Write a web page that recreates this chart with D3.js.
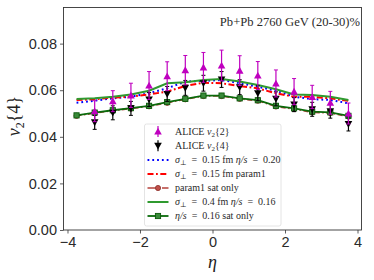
<!DOCTYPE html>
<html>
<head>
<meta charset="utf-8">
<script src="https://cdn.jsdelivr.net/npm/d3@7"></script>
<style>
  body { margin: 0; background: #fff; }
  svg { display: block; font-family: "Liberation Serif", "DejaVu Serif", serif; }
</style>
</head>
<body>
<svg id="chart" width="374" height="280"></svg>
<script>
// ALICE data points
const etaData = [-3.25, -2.75, -2.25, -1.75, -1.25, -0.75, -0.25, 0.25, 0.75, 1.25, 1.75, 2.25, 2.75, 3.25, 3.75];
const v22 = [0.0510, 0.0553, 0.0578, 0.0620, 0.0660, 0.0686, 0.0698, 0.0706, 0.0684, 0.0663, 0.0629, 0.0594, 0.0571, 0.0546, 0.0500];
const v22err = [0.0045, 0.0045, 0.0052, 0.0060, 0.0062, 0.0063, 0.0064, 0.0066, 0.0064, 0.0060, 0.0058, 0.0056, 0.0050, 0.0049, 0.0045];
const v24 = [0.0462, 0.0503, 0.0522, 0.0560, 0.0584, 0.0610, 0.0630, 0.0646, 0.0613, 0.0587, 0.0563, 0.0538, 0.0518, 0.0510, 0.0455];
const v24err = [0.0030, 0.0030, 0.0030, 0.0030, 0.0032, 0.0032, 0.0034, 0.0034, 0.0032, 0.0032, 0.0030, 0.0030, 0.0030, 0.0030, 0.0030];

// model curves
const etaModel = [-3.75, -3.25, -2.75, -2.25, -1.75, -1.25, -0.75, -0.25, 0.25, 0.75, 1.25, 1.75, 2.25, 2.75, 3.25, 3.75];
const sig015eta020 = [0.0546, 0.0555, 0.0565, 0.0572, 0.0587, 0.0608, 0.0637, 0.0640, 0.0644, 0.0630, 0.0615, 0.0598, 0.0572, 0.0562, 0.0558, 0.0544];
const sig015param1 = [0.0558, 0.0561, 0.0568, 0.0572, 0.0582, 0.0594, 0.0618, 0.0632, 0.0630, 0.0618, 0.0608, 0.0587, 0.0572, 0.0572, 0.0565, 0.0554];
const param1Sat = [0.0490, 0.0502, 0.0512, 0.0521, 0.0531, 0.0546, 0.0561, 0.0575, 0.0575, 0.0563, 0.0555, 0.0530, 0.0519, 0.0505, 0.0502, 0.0487];
const sig04eta016 = [0.0562, 0.0565, 0.0572, 0.0582, 0.0598, 0.0630, 0.0634, 0.0644, 0.0648, 0.0637, 0.0622, 0.0604, 0.0582, 0.0579, 0.0572, 0.0558];
const eta016Sat = [0.0492, 0.0504, 0.0514, 0.0523, 0.0533, 0.0549, 0.0563, 0.0577, 0.0577, 0.0565, 0.0557, 0.0533, 0.0522, 0.0508, 0.0505, 0.0490];

const xTicks = [-4, -2, 0, 2, 4];
const yTicks = [0, 0.02, 0.04, 0.06, 0.08];

const svg = d3.select("#chart");
const x = d3.scaleLinear().domain([-4.11, 4.11]).range([63.5, 361.5]);
const y = d3.scaleLinear().domain([0, 0.0955]).range([230, 7.5]);

// axes
svg.append("g").attr("transform", "translate(0,230)")
  .call(d3.axisBottom(x).tickValues(xTicks).tickSize(3.5).tickPadding(3)
    .tickFormat(d => d < 0 ? "\u2212" + Math.abs(d) : d))
  .call(g => g.select(".domain").remove())
  .call(g => g.selectAll("text").attr("font-size", 14.5).attr("fill", "#2a2a2a"));
svg.append("g").attr("transform", "translate(63.5,0)")
  .call(d3.axisLeft(y).tickValues(yTicks).tickSize(3.5).tickPadding(3).tickFormat(d3.format(".2f")))
  .call(g => g.select(".domain").remove())
  .call(g => g.selectAll("text").attr("font-size", 14.5).attr("fill", "#2a2a2a"));
svg.selectAll(".tick line").attr("stroke", "#333").attr("stroke-width", 0.8);

svg.append("rect")
  .attr("x", 63.5).attr("y", 7.5).attr("width", 298).attr("height", 222.5)
  .attr("fill", "none").attr("stroke", "#333").attr("stroke-width", 0.9);

const plot = svg.append("g");
const line = (vals) => d3.line().x((d, i) => x(etaModel[i])).y(d => y(d))(vals);

// model lines
plot.append("path").attr("d", line(sig015eta020)).attr("fill", "none")
  .attr("stroke", "#0000ff").attr("stroke-width", 2).attr("stroke-dasharray", "1.8,3");
plot.append("path").attr("d", line(sig015param1)).attr("fill", "none")
  .attr("stroke", "#ff0000").attr("stroke-width", 2).attr("stroke-dasharray", "6,2.5,1.8,2.5");
plot.append("path").attr("d", line(param1Sat)).attr("fill", "none")
  .attr("stroke", "#b5413b").attr("stroke-width", 1.6).attr("stroke-dasharray", "5,2.5,1.5,2.5");
plot.selectAll(".p1c").data(param1Sat).join("circle")
  .attr("cx", (d, i) => x(etaModel[i])).attr("cy", d => y(d)).attr("r", 2.6)
  .attr("fill", "#c0504a").attr("stroke", "#8a2a25").attr("stroke-width", 0.8);
plot.append("path").attr("d", line(sig04eta016)).attr("fill", "none")
  .attr("stroke", "#2f9a2f").attr("stroke-width", 2);
plot.append("path").attr("d", line(eta016Sat)).attr("fill", "none")
  .attr("stroke", "#0a6a0a").attr("stroke-width", 1.8);
plot.selectAll(".sq").data(eta016Sat).join("rect")
  .attr("x", (d, i) => x(etaModel[i]) - 2.6).attr("y", d => y(d) - 2.6)
  .attr("width", 5.2).attr("height", 5.2)
  .attr("fill", "#3a8a3a").attr("stroke", "#0a5a0a").attr("stroke-width", 0.9);

// error bars + markers
function errorPoints(vals, errs, color, up) {
  const g = plot.append("g");
  vals.forEach((v, i) => {
    const cx = x(etaData[i]);
    g.append("line").attr("x1", cx).attr("x2", cx)
      .attr("y1", y(v - errs[i])).attr("y2", y(v + errs[i]))
      .attr("stroke", color).attr("stroke-width", 1.2);
    [v - errs[i], v + errs[i]].forEach(e => g.append("line")
      .attr("x1", cx - 2).attr("x2", cx + 2).attr("y1", y(e)).attr("y2", y(e))
      .attr("stroke", color).attr("stroke-width", 1));
    g.append("path").attr("d", tri(cx, y(v), up)).attr("fill", color);
  });
}
function tri(cx, cy, up) {
  const s = 3.8;
  return up
    ? `M${cx},${cy - s}L${cx + s},${cy + s * 0.8}L${cx - s},${cy + s * 0.8}Z`
    : `M${cx},${cy + s}L${cx + s},${cy - s * 0.8}L${cx - s},${cy - s * 0.8}Z`;
}
errorPoints(v24, v24err, "#000", false);
errorPoints(v22, v22err, "#bf00bf", true);

// title
svg.append("text").attr("x", 360).attr("y", 26).attr("text-anchor", "end")
  .attr("font-size", 12.6).attr("fill", "#2a2a2a").text("Pb+Pb 2760 GeV (20-30)%");

// axis labels
svg.append("text").attr("x", 212.5).attr("y", 268).attr("text-anchor", "middle")
  .attr("font-size", 18).attr("font-style", "italic").attr("fill", "#222").text("\u03b7");
const yl = svg.append("text").attr("transform", "translate(20,116) rotate(-90)")
  .attr("text-anchor", "middle").attr("font-size", 18).attr("fill", "#222");
yl.append("tspan").attr("font-style", "italic").text("v");
yl.append("tspan").attr("font-size", 12).attr("dy", 4).text("2");
yl.append("tspan").attr("dy", -4).text("{4}");

// legend
const lg = svg.append("g");
lg.append("rect").attr("x", 144.5).attr("y", 124).attr("width", 136.5).attr("height", 102)
  .attr("rx", 2).attr("fill", "#fff").attr("fill-opacity", 0.85)
  .attr("stroke", "#ddd").attr("stroke-width", 0.8);
const rowY = [131.5, 145.7, 160, 174, 188, 202, 216];
const hx0 = 147.5, hx1 = 168.5, hxm = 158;
// data rows
[[v22err, "#bf00bf", true], [v24err, "#000", false]].forEach(([e, c, up], k) => {
  const cy = rowY[k];
  lg.append("line").attr("x1", hxm).attr("x2", hxm).attr("y1", cy - 5.5).attr("y2", cy + 5.5)
    .attr("stroke", c).attr("stroke-width", 1.2);
  lg.append("path").attr("d", tri(hxm, cy, up)).attr("fill", c);
});
lg.append("line").attr("x1", hx0).attr("x2", hx1).attr("y1", rowY[2]).attr("y2", rowY[2])
  .attr("stroke", "#0000ff").attr("stroke-width", 2).attr("stroke-dasharray", "1.8,3");
lg.append("line").attr("x1", hx0).attr("x2", hx1).attr("y1", rowY[3]).attr("y2", rowY[3])
  .attr("stroke", "#ff0000").attr("stroke-width", 2).attr("stroke-dasharray", "6,2.5,1.8,2.5");
lg.append("line").attr("x1", hx0).attr("x2", hx1).attr("y1", rowY[4]).attr("y2", rowY[4])
  .attr("stroke", "#b5413b").attr("stroke-width", 1.6).attr("stroke-dasharray", "8,2.5,1.5,2.5");
lg.append("circle").attr("cx", hxm).attr("cy", rowY[4]).attr("r", 2.6)
  .attr("fill", "#c0504a").attr("stroke", "#8a2a25").attr("stroke-width", 0.8);
lg.append("line").attr("x1", hx0).attr("x2", hx1).attr("y1", rowY[5]).attr("y2", rowY[5])
  .attr("stroke", "#2f9a2f").attr("stroke-width", 2);
lg.append("line").attr("x1", hx0).attr("x2", hx1).attr("y1", rowY[6]).attr("y2", rowY[6])
  .attr("stroke", "#0a6a0a").attr("stroke-width", 1.8);
lg.append("rect").attr("x", hxm - 2.6).attr("y", rowY[6] - 2.6).attr("width", 5.2).attr("height", 5.2)
  .attr("fill", "#3a8a3a").attr("stroke", "#0a5a0a").attr("stroke-width", 0.9);

const labels = [
  [["ALICE "], ["v", "i"], ["2", "s"], ["{2}"]],
  [["ALICE "], ["v", "i"], ["2", "s"], ["{4}"]],
  [["\u03c3", "i"], ["\u22a5", "s"], [" = 0.15 fm "], ["\u03b7/s", "i"], [" = 0.20"]],
  [["\u03c3", "i"], ["\u22a5", "s"], [" = 0.15 fm param1"]],
  [["param1 sat only"]],
  [["\u03c3", "i"], ["\u22a5", "s"], [" = 0.4 fm "], ["\u03b7/s", "i"], [" = 0.16"]],
  [["\u03b7/s", "i"], [" = 0.16 sat only"]]
];
labels.forEach((parts, k) => {
  const t = lg.append("text").attr("x", 175).attr("y", rowY[k] + 3.3)
    .attr("font-size", 10).attr("fill", "#2a2a2a").attr("xml:space", "preserve")
    .style("white-space", "pre");
  let sub = false;
  parts.forEach(([s, st]) => {
    const ts = t.append("tspan").text(s.replace(/ = /g, "  =  "));
    if (st === "i") ts.attr("font-style", "italic");
    if (st === "s") { ts.attr("font-size", 7).attr("dy", 2); sub = true; }
    else if (sub) { ts.attr("dy", -2); sub = false; }
  });
});
</script>
</body>
</html>
